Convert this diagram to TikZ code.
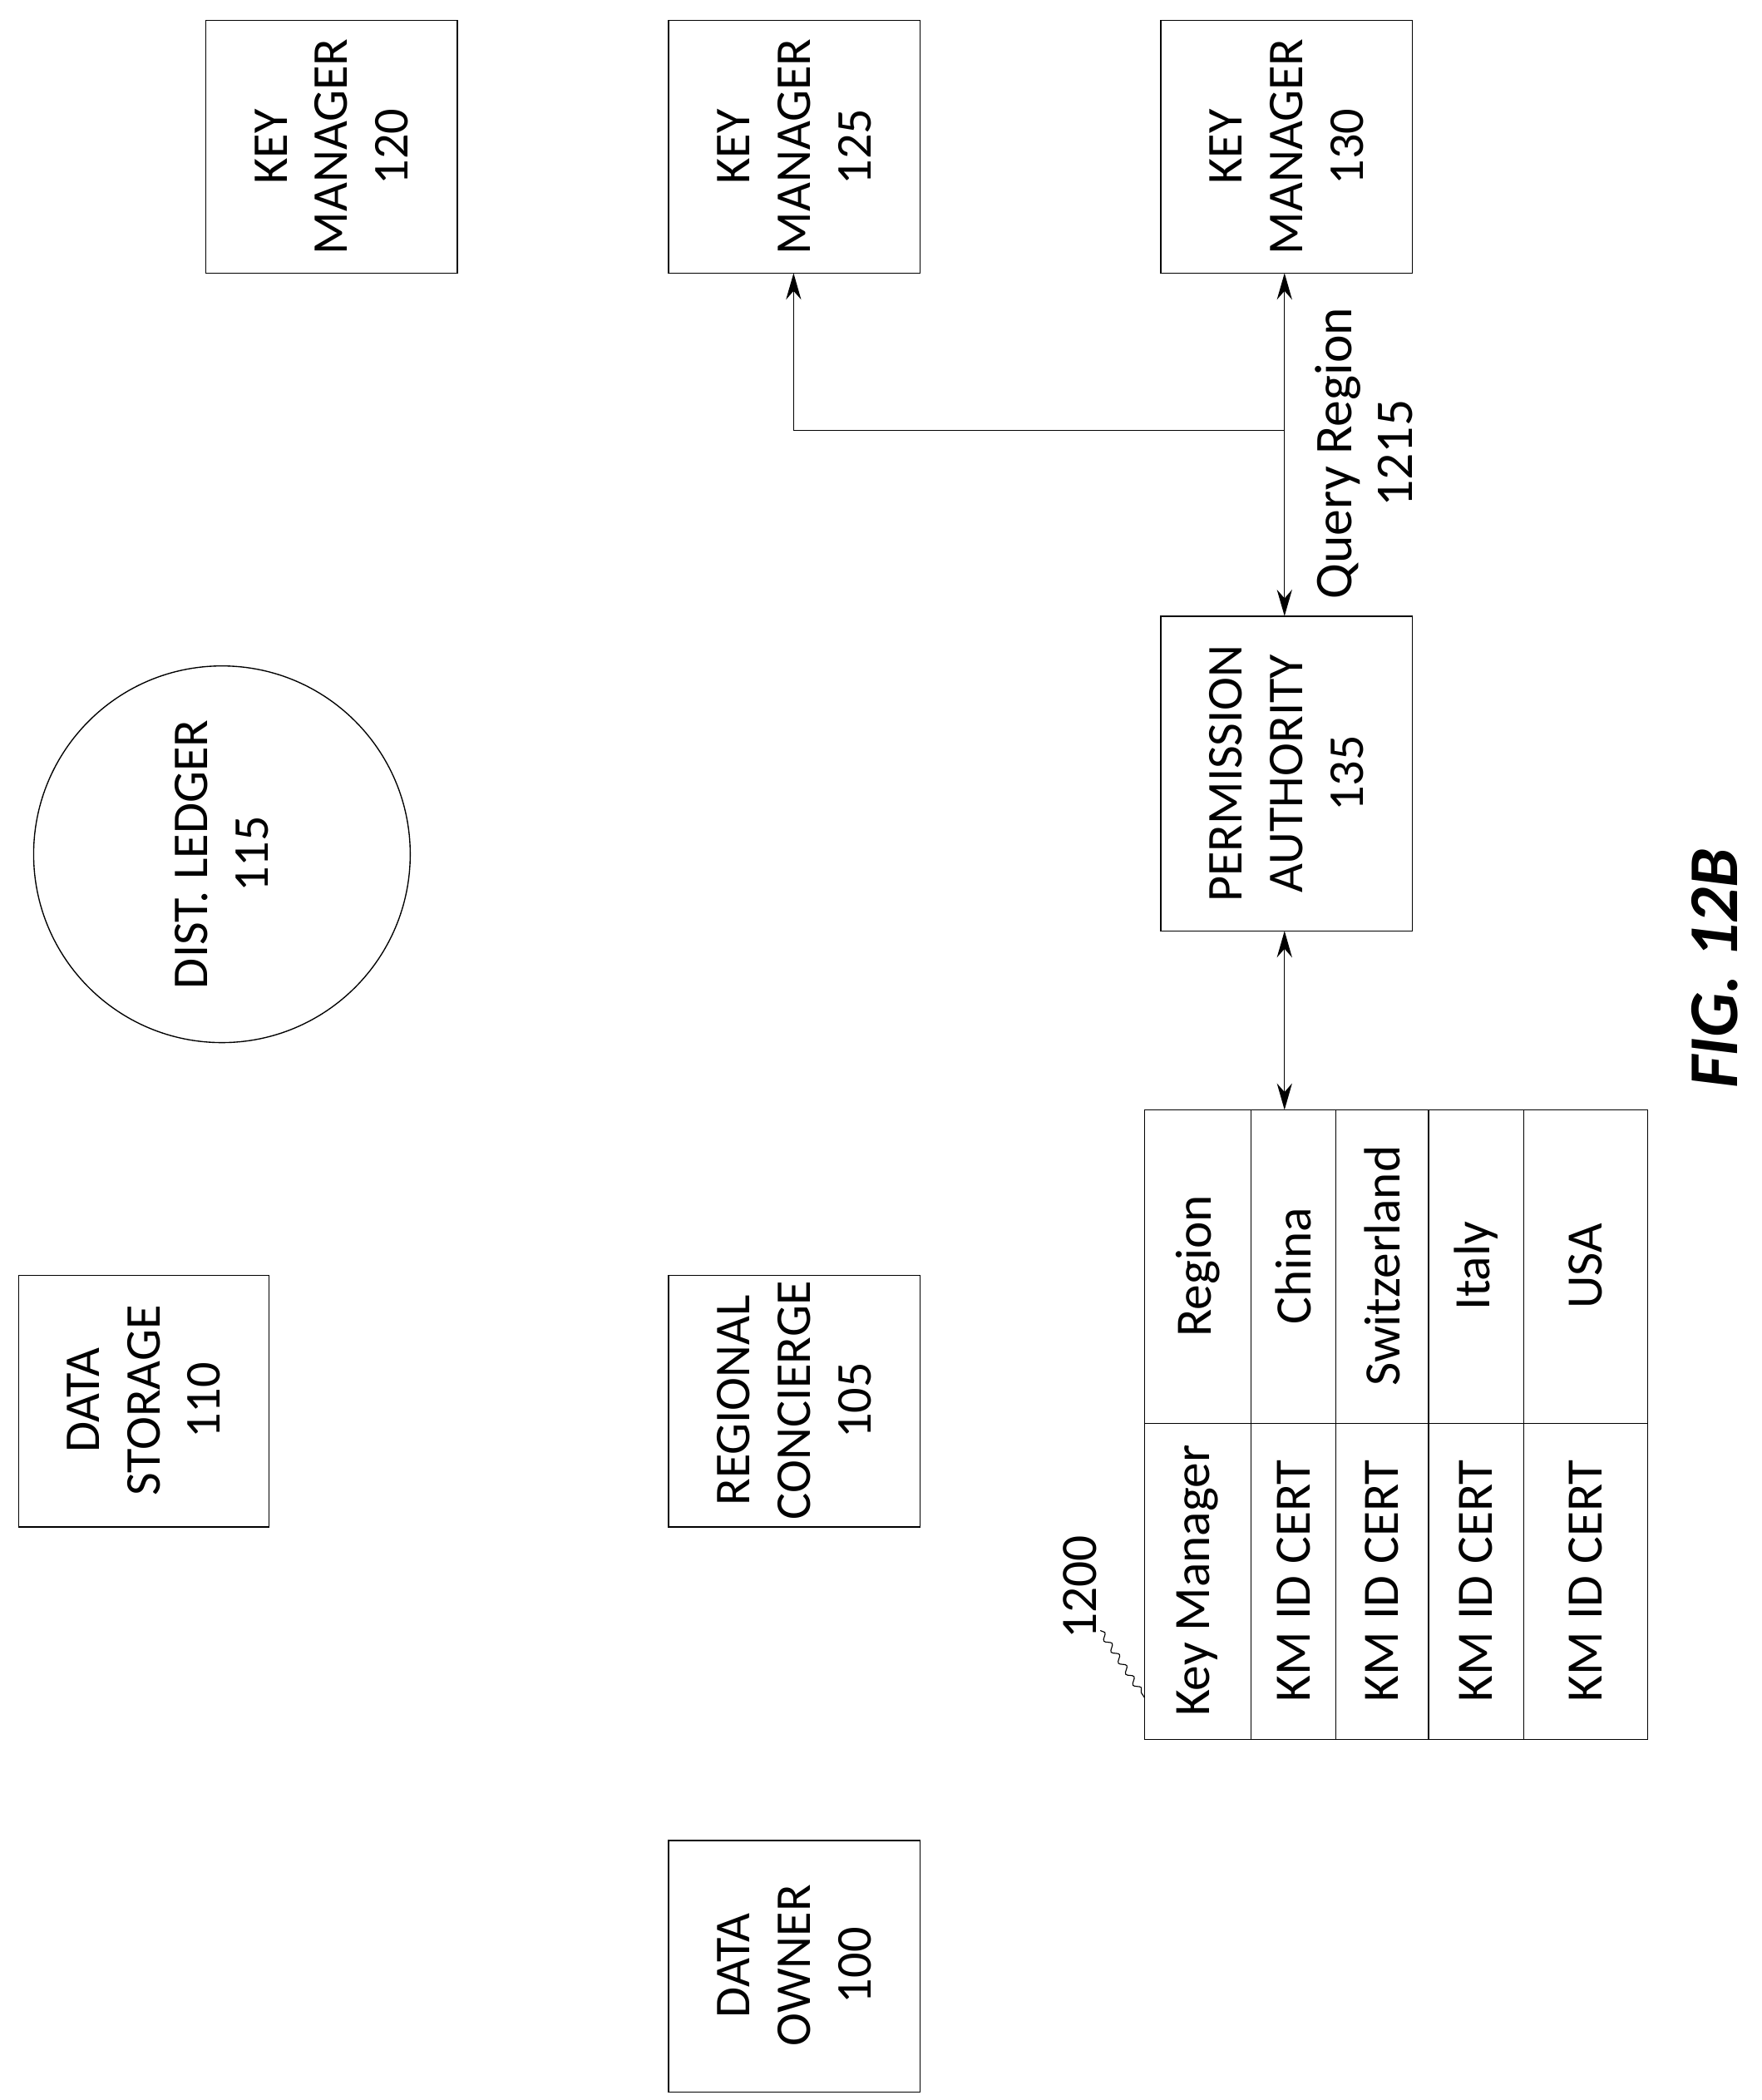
\documentclass[tikz,border=0pt]{standalone}
\usepackage{fontspec}
\setmainfont{Carlito}
\usetikzlibrary{arrows.meta,decorations.pathmorphing}
\begin{document}
\begin{tikzpicture}[x=0.05cm,y=-0.05cm,
  bx/.style={draw,line width=1.2pt},
  t/.style={rotate=90,align=center,font=\fontsize{53}{64}\selectfont},
  cl/.style={rotate=90,font=\fontsize{54}{62}\selectfont},
  ar/.style={line width=1.2pt,{Stealth[length=28pt,width=16pt]}-{Stealth[length=28pt,width=16pt]}}]
\useasboundingbox (0,0) rectangle (1310,1561);
\draw[bx] (153,15) rectangle (340,203); \node[t] (k120) at (246.5,109) {KEY\\MANAGER\\120};
\draw[bx] (497,15) rectangle (684,203); \node[t] (k125) at (590.5,109) {KEY\\MANAGER\\125};
\draw[bx] (863,15) rectangle (1050,203); \node[t] (k130) at (956.5,109) {KEY\\MANAGER\\130};
\draw[bx] (165,635) circle (140); \node[t] (dl) at (165,635) {DIST. LEDGER\\115};
\draw[bx] (14,948) rectangle (200,1135); \node[t] (ds) at (107,1041) {DATA\\STORAGE\\110};
\draw[bx] (497,948) rectangle (684,1135); \node[t] (rc) at (590.5,1041) {REGIONAL\\CONCIERGE\\105};
\draw[bx] (497,1368) rectangle (684,1555); \node[t] (do) at (590.5,1461) {DATA\\OWNER\\100};
\draw[bx] (863,458) rectangle (1050,692); \node[t] (pa) at (956.5,575) {PERMISSION\\AUTHORITY\\135};
% table
\draw[bx] (851,825) rectangle (1225,1293);
\foreach \x in {930,993,1062,1133} \draw[line width=1.2pt] (\x,825) -- (\x,1293);
\draw[line width=1.2pt] (851,1058) -- (1225,1058);
\node[cl] at (890.5,941) {Region};
\node[cl] at (961.5,941) {China};
\node[cl] at (1027.5,941) {Switzerland};
\node[cl] at (1097.5,941) {Italy};
\node[cl] at (1179,941) {USA};
\node[cl] at (890.5,1175) {Key Manager};
\node[cl] at (961.5,1175) {KM ID CERT};
\node[cl] at (1027.5,1175) {KM ID CERT};
\node[cl] at (1097.5,1175) {KM ID CERT};
\node[cl] at (1179,1175) {KM ID CERT};
\node[cl] (l1200) at (803,1180) {1200};
\coordinate (tc) at (851,1262);
\draw[line width=1pt,decorate,decoration={snake,amplitude=3pt,segment length=14pt}] (818,1212) -- (tc);
% connectors
\coordinate (tt) at (955,825); \coordinate (pb) at (955,692);
\coordinate (pt) at (955,458); \coordinate (kb) at (955,203);
\coordinate (br) at (955,320); \coordinate (bl) at (590,320); \coordinate (k5b) at (590,203);
\draw[ar] (tt) -- (pb);
\draw[ar] (pt) -- (kb);
\draw[line width=1.2pt,-{Stealth[length=28pt,width=16pt]}] (br) -- (bl) -- (k5b);
\node[t,font=\fontsize{56}{64}\selectfont] (qr) at (1014,337) {Query Region\\1215};
\node[rotate=90,font=\fontsize{74}{80}\selectfont\bfseries\itshape] (fig) at (1275,720) {FIG. 12B};
\end{tikzpicture}
\end{document}
